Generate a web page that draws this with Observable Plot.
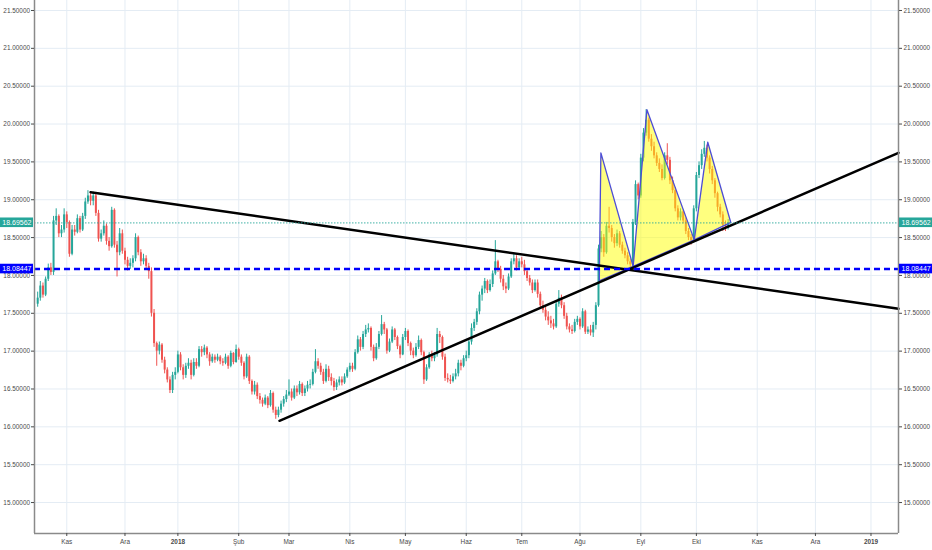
<!DOCTYPE html>
<html><head><meta charset="utf-8">
<script src="https://cdn.jsdelivr.net/npm/d3@7"></script>
<script src="https://cdn.jsdelivr.net/npm/@observablehq/plot@0.6"></script>
<style>html,body{margin:0;padding:0;background:#fff;} #chart svg{display:block;}</style>
</head><body><div id="chart"></div>
<script>
// ---------- data (bar index = weekday count from 1 Nov 2017) ----------
const firstBarIndex = -11;
const firstOpen = 17.62;
const closes = [
17.70,17.86,17.74,17.95,18.10,18.04,18.72,18.78,18.55,18.60,18.80,
18.70,18.28,18.60,18.57,18.75,18.60,18.78,18.97,19.05,18.98,
19.05,18.82,18.48,18.55,18.65,18.45,18.38,18.86,18.40,18.30,
18.55,18.32,18.20,18.12,18.16,18.22,18.50,18.30,18.18,18.22,
18.12,18.05,17.50,17.10,17.00,17.08,16.88,16.75,16.62,16.48,
16.68,16.72,16.95,16.78,16.68,16.80,16.84,16.68,16.85,16.80,
17.02,16.98,17.04,16.95,16.86,16.92,16.88,16.92,16.86,16.84,
16.92,16.80,16.97,16.85,17.02,16.92,16.84,16.66,16.92,16.60,
16.46,16.55,16.40,16.35,16.30,16.38,16.28,16.44,16.22,16.15,
16.22,16.30,16.36,16.42,16.46,16.38,16.50,16.45,16.56,16.44,
16.50,16.55,16.56,16.72,16.86,16.80,16.72,16.60,16.76,16.65,
16.60,16.52,16.58,16.62,16.58,16.66,16.75,16.80,16.76,16.98,
17.15,17.05,17.22,17.28,17.30,17.05,16.90,17.05,17.22,17.35,
17.28,17.00,17.12,17.28,17.18,17.06,16.95,17.18,17.26,17.10,
17.00,16.94,17.05,17.14,16.98,16.62,16.78,16.95,16.90,16.95,
17.22,17.18,16.92,16.64,16.62,16.60,16.66,16.70,16.84,16.80,
16.90,16.94,17.12,17.30,17.38,17.52,17.74,17.82,17.92,17.80,
17.88,18.02,18.18,18.08,17.95,17.85,17.82,17.98,18.18,18.22,
18.10,18.18,18.14,18.05,17.96,17.90,17.80,17.90,17.75,17.60,
17.54,17.45,17.40,17.36,17.32,17.62,17.70,17.60,17.46,17.32,
17.28,17.26,17.38,17.42,17.32,17.52,17.25,17.28,17.24,17.34,
17.60,18.35,18.50,18.30,18.65,18.62,18.50,18.42,18.55,18.40,
18.32,18.26,18.18,18.14,18.70,19.20,19.05,19.55,19.88,20.05,
19.80,19.70,19.58,19.48,19.40,19.28,19.58,19.52,19.25,19.12,
18.88,18.76,18.84,18.72,18.58,18.50,18.46,18.88,19.32,19.45,
19.60,19.68,19.55,19.40,19.25,19.08,18.90,18.80,18.66,18.64,
18.69562
];
const highs = [
17.78,17.92,17.90,17.98,18.15,18.16,18.78,18.88,18.80,18.66,18.88,
18.84,18.72,18.66,18.66,18.80,18.78,18.82,19.02,19.12,19.08,
19.10,19.08,18.86,18.60,18.72,18.68,18.50,18.90,18.88,18.45,
18.62,18.60,18.36,18.24,18.22,18.26,18.55,18.52,18.34,18.28,
18.26,18.16,18.10,17.55,17.12,17.12,17.10,16.92,16.78,16.66,
16.72,16.78,17.00,16.98,16.82,16.84,16.90,16.88,16.90,16.90,
17.06,17.06,17.08,17.06,16.98,16.96,16.95,16.96,16.94,16.90,
16.96,16.94,17.00,16.98,17.08,17.04,16.95,16.86,16.96,16.94,
16.62,16.60,16.58,16.44,16.38,16.42,16.40,16.48,16.46,16.26,
16.26,16.34,16.40,16.48,16.62,16.50,16.54,16.54,16.60,16.58,
16.54,16.60,16.62,16.76,17.02,16.90,16.84,16.76,16.82,16.80,
16.70,16.64,16.62,16.66,16.66,16.70,16.78,16.84,16.84,17.02,
17.20,17.18,17.26,17.34,17.36,17.32,17.08,17.10,17.26,17.47,
17.38,17.30,17.16,17.32,17.30,17.20,17.08,17.22,17.30,17.28,
17.12,17.04,17.10,17.20,17.16,17.00,16.82,16.98,17.00,16.98,
17.30,17.26,17.20,16.96,16.70,16.68,16.70,16.76,16.88,16.88,
16.94,17.00,17.16,17.36,17.42,17.56,17.78,17.86,17.96,17.94,
17.94,18.06,18.46,18.20,18.12,18.00,17.90,18.02,18.22,18.28,
18.26,18.22,18.24,18.20,18.08,18.00,17.94,17.94,17.94,17.78,
17.66,17.60,17.52,17.46,17.42,17.66,17.80,17.74,17.64,17.50,
17.36,17.34,17.42,17.46,17.44,17.56,17.54,17.32,17.34,17.38,
17.64,18.40,18.58,18.54,18.70,18.90,18.66,18.54,18.60,18.58,
18.44,18.36,18.30,18.22,18.74,19.25,19.22,19.60,19.94,20.19,
20.08,19.86,19.76,19.62,19.54,19.46,19.62,19.74,19.56,19.30,
19.16,18.92,18.88,18.86,18.76,18.62,18.54,18.92,19.36,19.50,
19.66,19.77,19.72,19.58,19.44,19.28,19.10,18.94,18.84,18.72,
18.74
];
const lows = [
17.58,17.66,17.70,17.72,17.92,18.00,18.00,18.66,18.50,18.50,18.56,
18.62,18.24,18.26,18.52,18.55,18.56,18.58,18.74,18.94,18.92,
18.92,18.78,18.44,18.44,18.52,18.40,18.32,18.36,18.36,17.98,
18.26,18.28,18.14,18.06,18.08,18.10,18.18,18.26,18.12,18.14,
18.08,17.95,17.45,17.05,16.80,16.95,16.84,16.70,16.58,16.44,
16.44,16.62,16.70,16.74,16.62,16.64,16.76,16.62,16.66,16.76,
16.78,16.92,16.94,16.90,16.80,16.84,16.84,16.86,16.82,16.80,
16.82,16.76,16.78,16.82,16.84,16.88,16.80,16.62,16.64,16.56,
16.42,16.42,16.36,16.30,16.26,16.28,16.24,16.26,16.18,16.10,
16.12,16.18,16.26,16.32,16.40,16.34,16.36,16.40,16.42,16.40,
16.40,16.46,16.50,16.54,16.70,16.76,16.68,16.56,16.58,16.60,
16.54,16.47,16.48,16.54,16.54,16.56,16.64,16.72,16.72,16.74,
16.96,17.00,17.02,17.18,17.24,17.00,16.86,16.88,17.02,17.20,
17.22,16.96,16.98,17.10,17.14,17.02,16.90,16.94,17.14,17.06,
16.94,16.90,16.92,17.02,16.94,16.56,16.60,16.76,16.86,16.86,
16.92,17.10,16.88,16.60,16.58,16.56,16.58,16.62,16.66,16.74,
16.78,16.86,16.90,17.08,17.26,17.34,17.48,17.66,17.76,17.76,
17.78,17.84,18.00,18.04,17.90,17.80,17.76,17.80,17.96,18.14,
18.06,18.08,18.10,18.00,17.92,17.86,17.76,17.78,17.70,17.56,
17.50,17.40,17.34,17.30,17.28,17.30,17.58,17.56,17.42,17.28,
17.24,17.22,17.24,17.34,17.28,17.30,17.22,17.22,17.20,17.18,
17.28,17.58,18.30,18.24,18.28,18.56,18.44,18.36,18.38,18.36,
18.28,18.22,18.14,18.08,18.10,18.66,19.00,19.02,19.50,19.84,
19.76,19.64,19.54,19.44,19.36,19.25,19.26,19.46,19.20,19.08,
18.84,18.72,18.72,18.68,18.54,18.46,18.40,18.44,18.84,19.28,
19.40,19.56,19.50,19.34,19.20,19.02,18.84,18.76,18.58,18.58,
18.60
];
const monthIdx    = [0, 22, 42, 65, 84, 107, 128, 151, 172, 194, 217, 238, 261, 283, 304];
const monthLabels = ["Kas","Ara","2018","Şub","Mar","Nis","May","Haz","Tem","Ağu","Eyl","Eki","Kas","Ara","2019"];
const yTicks = [15, 15.5, 16, 16.5, 17, 17.5, 18, 18.5, 19, 19.5, 20, 20.5, 21, 21.5];
const lastPrice = 18.69562;
const supportPrice = 18.08447;
const line1Idx = [9, 314.4],   line1Price = [19.10, 17.56];
const line2Idx = [80.4, 314.4], line2Price = [16.08, 19.62];
const patternIdx   = [201.3, 201.9, 214.1, 219.3, 237.2, 242.3, 251.0];
const patternPrice = [17.93, 19.62, 18.12, 20.19, 18.47, 19.76, 18.70];
const patternTriangles = [[0,1,2],[2,3,4],[4,5,6]];

const xDomain = [-12.2, 314.4];
const yDomain = [14.591, 21.632];
const GREEN = "#26a69a", RED = "#ef5350";

// ---------- derived tables ----------
const candles = closes.map((c, k) => ({
  i: k + firstBarIndex, open: k ? closes[k - 1] : firstOpen, close: c, high: highs[k], low: lows[k]
}));
const up = candles.filter(d => d.close >= d.open);
const down = candles.filter(d => d.close < d.open);
const patternRows = [];
patternTriangles.forEach((t, j) => [...t, t[0]].forEach(k => patternRows.push({tri: j, i: patternIdx[k], p: patternPrice[k]})));
const trendRows = [
  ...line1Idx.map((i, k) => ({id: 1, i, p: line1Price[k]})),
  ...line2Idx.map((i, k) => ({id: 2, i, p: line2Price[k]}))
];
const labelMap = new Map(monthIdx.map((d, k) => [d, monthLabels[k]]));
const isYear = d => /^\d{4}$/.test(labelMap.get(d));
const fmt5 = d3.format(".5f");
const levels = [{v: lastPrice, color: GREEN}, {v: supportPrice, color: "#0000ff"}];

const FS = 6.4;
const chart = Plot.plot({
  width: 932, height: 550,
  marginLeft: 34, marginRight: 34, marginTop: 0, marginBottom: 17,
  style: {fontFamily: "'Liberation Sans', Arial, sans-serif", color: "#4a4a4a", background: "#fff"},
  x: {type: "linear", domain: xDomain, axis: null, label: null},
  y: {domain: yDomain, axis: null, label: null},
  marks: [
    Plot.gridY(yTicks, {stroke: "#e4ecf4", strokeOpacity: 1}),
    Plot.gridX(monthIdx, {stroke: "#e4ecf4", strokeOpacity: 1}),
    Plot.ruleX(up,   {x: "i", y1: "low",  y2: "high",  stroke: GREEN, strokeWidth: 1}),
    Plot.ruleX(up,   {x: "i", y1: "open", y2: "close", stroke: GREEN, strokeWidth: 2}),
    Plot.ruleX(down, {x: "i", y1: "low",  y2: "high",  stroke: RED, strokeWidth: 1}),
    Plot.ruleX(down, {x: "i", y1: "open", y2: "close", stroke: RED, strokeWidth: 2}),
    Plot.line(patternRows, {x: "i", y: "p", z: "tri", fill: "#ffff00", fillOpacity: 0.5, stroke: "#4d4dd6", strokeWidth: 1.3}),
    Plot.line(trendRows, {x: "i", y: "p", z: "id", stroke: "#000", strokeWidth: 2.5}),
    Plot.ruleY([supportPrice], {stroke: "#0000ff", strokeWidth: 2.5, strokeDasharray: "6,4"}),
    Plot.ruleY([lastPrice], {stroke: GREEN, strokeOpacity: 0.7, strokeWidth: 1.3, strokeDasharray: "1.5,1.5"}),
    Plot.ruleX(xDomain, {stroke: "#8a8a8a", strokeWidth: 1.5}),
    Plot.ruleY([yDomain[0]], {stroke: "#8a8a8a", strokeWidth: 1.5}),
    Plot.axisY(yTicks, {anchor: "left", label: null, tickFormat: fmt5, tickSize: 3, tickPadding: 1.5, fontSize: FS}),
    Plot.axisY(yTicks, {anchor: "right", label: null, tickFormat: fmt5, tickSize: 3, tickPadding: 2, fontSize: FS}),
    Plot.axisX(monthIdx.filter(d => !isYear(d)), {anchor: "bottom", label: null, tickFormat: d => labelMap.get(d), tickSize: 3, tickPadding: 3, fontSize: FS}),
    Plot.axisX(monthIdx.filter(isYear), {anchor: "bottom", label: null, tickFormat: d => labelMap.get(d), tickSize: 3, tickPadding: 3, fontSize: FS, fontWeight: "bold"}),
    Plot.text(levels, {x: xDomain[0], y: "v", text: d => fmt5(d.v), textAnchor: "end", dx: -3, fill: "#fff", fontSize: 7}),
    Plot.text(levels, {x: xDomain[1], y: "v", text: d => fmt5(d.v), textAnchor: "start", dx: 3, fill: "#fff", fontSize: 7})
  ]
});
document.getElementById("chart").append(chart);

// price-label boxes behind the level texts
const yScale = chart.scale("y");
const svgNS = "http://www.w3.org/2000/svg";
chart.querySelectorAll("text").forEach(t => {
  const lvl = levels.find(l => fmt5(l.v) === t.textContent);
  if (!lvl) return;
  let g = t;
  while (g.parentNode && g.parentNode !== chart) g = g.parentNode;
  const bb = t.getBoundingClientRect(), sb = chart.getBoundingClientRect();
  const left = (bb.left - sb.left) < 466;
  const yc = yScale.apply(lvl.v);
  const r = document.createElementNS(svgNS, "rect");
  r.setAttribute("x", left ? 0 : 899);
  r.setAttribute("width", 33);
  r.setAttribute("y", yc - 4.8);
  r.setAttribute("height", 9.6);
  r.setAttribute("fill", lvl.color);
  chart.insertBefore(r, g);
});
</script>
</body></html>
